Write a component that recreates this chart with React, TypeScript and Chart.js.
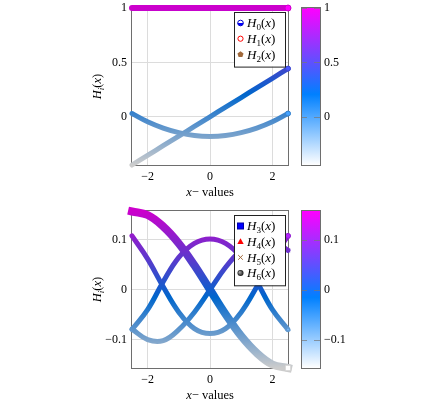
import React, { useEffect, useRef } from 'react';
import { Chart, registerables } from 'chart.js';

Chart.register(...registerables);

// ---- data ----
const xValues = [-2.5, -2, -1.5, -1, -0.5, 0, 0.5, 1, 1.5, 2, 2.5];

const h0 = [1, 1, 1, 1, 1, 1, 1, 1, 1, 1, 1];
const h1 = [-0.443, -0.354, -0.266, -0.177, -0.089, 0, 0.089, 0.177, 0.266, 0.354, 0.443];
const h2 = [0.03, -0.046, -0.104, -0.146, -0.172, -0.18, -0.172, -0.146, -0.104, -0.046, 0.03];

const h3 = [0.157, 0.15, 0.127, 0.093, 0.049, 0, -0.049, -0.093, -0.127, -0.15, -0.157];
const h4 = [-0.08, -0.04, 0.016, 0.065, 0.093, 0.102, 0.093, 0.065, 0.016, -0.04, -0.08];
const h5 = [-0.079, -0.1, -0.102, -0.08, -0.045, 0, 0.045, 0.08, 0.102, 0.1, 0.079];
const h6 = [0.108, 0.062, 0.006, -0.045, -0.078, -0.088, -0.078, -0.045, 0.006, 0.062, 0.108];

const xTicks = [-2, 0, 2];
const topYTicks = [0, 0.5, 1];
const bottomYTicks = [-0.1, 0, 0.1];
const topRange = [-0.443, 1];
const bottomRange = [-0.157, 0.158];

const topLabels = ['0', '1', '2'];
const bottomLabels = ['3', '4', '5', '6'];

const SERIF = '"Liberation Serif", "Times New Roman", serif';

type RGB = [number, number, number];
const cmapStops: [number, RGB][] = [
  [0, [255, 255, 255]],
  [0.45, [0, 128, 255]],
  [1, [255, 0, 255]],
];

function cmap(t: number, f = 1): string {
  const tt = Math.max(0, Math.min(1, t));
  for (let i = 0; i < cmapStops.length - 1; i++) {
    const [t0, c0] = cmapStops[i];
    const [t1, c1] = cmapStops[i + 1];
    if (tt <= t1) {
      const u = (tt - t0) / (t1 - t0);
      const c = c0.map((v, k) => Math.round((v + (c1[k] - v) * u) * f));
      return `rgb(${c.join(',')})`;
    }
  }
  const c = cmapStops[cmapStops.length - 1][1].map((v) => Math.round(v * f));
  return `rgb(${c.join(',')})`;
}

function vGradient(ctx: CanvasRenderingContext2D, top: number, bottom: number, f: number) {
  const g = ctx.createLinearGradient(0, top, 0, bottom);
  for (const [t, c] of cmapStops) {
    g.addColorStop(1 - t, `rgb(${c.map((v) => Math.round(v * f)).join(',')})`);
  }
  return g;
}

type Part = { t: string; it?: boolean; sub?: boolean };

function partsWidth(ctx: CanvasRenderingContext2D, parts: Part[], size: number) {
  let w = 0;
  for (const p of parts) {
    const s = p.sub ? size * 0.7 : size;
    ctx.font = `${p.it ? 'italic ' : ''}${s}px ${SERIF}`;
    w += ctx.measureText(p.t).width;
  }
  return w;
}

function drawParts(ctx: CanvasRenderingContext2D, parts: Part[], x: number, baseline: number, size: number) {
  let cx = x;
  ctx.textBaseline = 'alphabetic';
  ctx.textAlign = 'left';
  for (const p of parts) {
    const s = p.sub ? size * 0.7 : size;
    ctx.font = `${p.it ? 'italic ' : ''}${s}px ${SERIF}`;
    ctx.fillText(p.t, cx, p.sub ? baseline + size * 0.22 : baseline);
    cx += ctx.measureText(p.t).width;
  }
}

function drawMarker(ctx: CanvasRenderingContext2D, kind: string, x: number, y: number) {
  ctx.save();
  ctx.lineWidth = 1;
  if (kind === 'halfcircle') {
    ctx.fillStyle = '#fff';
    ctx.beginPath();
    ctx.arc(x, y, 2.8, 0, Math.PI * 2);
    ctx.fill();
    ctx.fillStyle = '#0000ff';
    ctx.beginPath();
    ctx.arc(x, y, 2.8, 0, Math.PI);
    ctx.fill();
    ctx.strokeStyle = '#0000cc';
    ctx.beginPath();
    ctx.arc(x, y, 2.8, 0, Math.PI * 2);
    ctx.stroke();
  } else if (kind === 'ocircle') {
    ctx.strokeStyle = '#ff0000';
    ctx.beginPath();
    ctx.arc(x, y, 2.6, 0, Math.PI * 2);
    ctx.stroke();
  } else if (kind === 'pentagon') {
    ctx.fillStyle = '#a0683a';
    ctx.beginPath();
    for (let i = 0; i < 5; i++) {
      const a = -Math.PI / 2 + (i * 2 * Math.PI) / 5;
      const px = x + 3.2 * Math.cos(a);
      const py = y + 3.2 * Math.sin(a);
      if (i === 0) ctx.moveTo(px, py);
      else ctx.lineTo(px, py);
    }
    ctx.closePath();
    ctx.fill();
  } else if (kind === 'square') {
    ctx.fillStyle = '#0000ff';
    ctx.fillRect(x - 3, y - 3, 6, 6);
    ctx.strokeStyle = '#0000aa';
    ctx.strokeRect(x - 3, y - 3, 6, 6);
  } else if (kind === 'triangle') {
    ctx.fillStyle = '#ff0000';
    ctx.beginPath();
    ctx.moveTo(x, y - 3.4);
    ctx.lineTo(x + 3.2, y + 2.4);
    ctx.lineTo(x - 3.2, y + 2.4);
    ctx.closePath();
    ctx.fill();
  } else if (kind === 'x') {
    ctx.strokeStyle = '#a0683a';
    ctx.beginPath();
    ctx.moveTo(x - 2.3, y - 2.3);
    ctx.lineTo(x + 2.3, y + 2.3);
    ctx.moveTo(x + 2.3, y - 2.3);
    ctx.lineTo(x - 2.3, y + 2.3);
    ctx.stroke();
  } else if (kind === 'ball') {
    const g = ctx.createRadialGradient(x - 1, y - 1, 0.3, x, y, 3);
    g.addColorStop(0, '#aaaaaa');
    g.addColorStop(1, '#111111');
    ctx.fillStyle = g;
    ctx.beginPath();
    ctx.arc(x, y, 3, 0, Math.PI * 2);
    ctx.fill();
  }
  ctx.restore();
}

function fmt(v: number | string) {
  return String(v).replace('-', '\u2212');
}

type Series = { sub: string; values: number[]; width: number; cap: CanvasLineCap; marker: string; endStyle: string };

function makePlugin(series: Series[]) {
  return {
    id: 'deco',
    beforeDatasetsDraw(chart: any) {
      const { ctx, chartArea: a } = chart;
      ctx.save();
      ctx.strokeStyle = '#6e6e6e';
      ctx.lineWidth = 1;
      ctx.strokeRect(Math.round(a.left) - 0.5, Math.round(a.top) - 0.5, Math.round(a.right - a.left) + 1, Math.round(a.bottom - a.top) + 1);
      ctx.restore();
    },
    afterDraw(chart: any) {
      const { ctx, chartArea: a } = chart;
      ctx.save();
      // legend box
      const n = series.length;
      const boxW = 51;
      const rowH = 15.7;
      const boxH = 7 + n * rowH + 0.5;
      const bx = a.right - 54;
      const by = a.top + 4;
      ctx.fillStyle = '#fff';
      ctx.fillRect(bx, by, boxW, boxH);
      ctx.strokeStyle = '#222';
      ctx.lineWidth = 1;
      ctx.strokeRect(Math.round(bx) + 0.5, Math.round(by) + 0.5, boxW, boxH);
      ctx.fillStyle = '#000';
      series.forEach((s, i) => {
        const cy = by + 11 + i * rowH;
        drawMarker(ctx, s.marker, bx + 6.5, cy);
        ctx.fillStyle = '#000';
        drawParts(ctx, [{ t: 'H', it: true }, { t: s.sub, sub: true }, { t: '(' }, { t: 'x', it: true }, { t: ')' }], bx + 13, cy + 4.3, 13);
      });

      // x axis title
      ctx.fillStyle = '#000';
      const xParts: Part[] = [{ t: 'x', it: true }, { t: '\u2212' }, { t: ' values' }];
      const xw = partsWidth(ctx, xParts, 12.5);
      drawParts(ctx, xParts, (a.left + a.right) / 2 - xw / 2, a.bottom + 31, 12.5);

      // y axis title
      const yParts: Part[] = [{ t: 'H', it: true }, { t: 'i', it: true, sub: true }, { t: '(' }, { t: 'x', it: true }, { t: ')' }];
      const yw = partsWidth(ctx, yParts, 12.5);
      ctx.save();
      ctx.translate(101, (a.top + a.bottom) / 2);
      ctx.rotate(-Math.PI / 2);
      drawParts(ctx, yParts, -yw / 2, 0, 12.5);
      ctx.restore();

      // colorbar
      const cx0 = a.right + 14;
      const cw = 18;
      ctx.fillStyle = vGradient(ctx, a.top, a.bottom, 1);
      ctx.fillRect(cx0, a.top, cw, a.bottom - a.top);
      const cb = chart.scales.cb;
      ctx.strokeStyle = 'rgba(120,120,120,0.7)';
      ctx.lineWidth = 1;
      for (const t of cb.ticks) {
        const py = Math.round(cb.getPixelForValue(t.value)) + 0.5;
        ctx.beginPath();
        ctx.moveTo(cx0, py);
        ctx.lineTo(cx0 + 5, py);
        ctx.moveTo(cx0 + cw - 6, py);
        ctx.lineTo(cx0 + cw, py);
        ctx.stroke();
      }
      ctx.strokeStyle = '#6e6e6e';
      ctx.strokeRect(Math.round(cx0) - 0.5, Math.round(a.top) - 0.5, cw + 1, Math.round(a.bottom - a.top) + 1);
      ctx.restore();
    },
  };
}

function Panel(props: { top: number; height: number; padTop: number; xAxisH: number; series: Series[]; range: number[]; yTicks: number[] }) {
  const ref = useRef<HTMLCanvasElement>(null);
  useEffect(() => {
    const { series, range, yTicks, padTop, xAxisH } = props;
    const [ymin, ymax] = range;
    const norm = (v: number) => (v - ymin) / (ymax - ymin);
    const n = series.length;
    const tickFont = { family: SERIF, size: 12 };
    const chart = new Chart(ref.current as HTMLCanvasElement, {
      type: 'line',
      data: {
        datasets: series.map((s, i) => ({
          label: 'H' + s.sub,
          data: xValues.map((x, k) => ({ x, y: s.values[k] })),
          borderColor: (c: any) => {
            const a = c.chart.chartArea;
            if (!a) return '#000';
            return vGradient(c.chart.ctx, a.top, a.bottom, 0.8);
          },
          borderWidth: s.width,
          borderCapStyle: s.cap,
          borderJoinStyle: 'round',
          tension: 0.4,
          fill: false,
          clip: 14,
          order: n - 1 - i,
          pointStyle: s.endStyle,
          pointRadius: (c: any) => (c.dataIndex === xValues.length - 1 ? s.width * 0.5 : 0),
          pointBorderWidth: 1,
          pointBackgroundColor: (c: any) => cmap(norm(c.raw ? c.raw.y : 0), 1),
          pointBorderColor: (c: any) => cmap(norm(c.raw ? c.raw.y : 0), 0.8),
        })) as any,
      },
      options: {
        animation: false,
        responsive: false,
        maintainAspectRatio: false,
        devicePixelRatio: 1,
        events: [],
        layout: { padding: { top: padTop, left: 0, right: 0, bottom: 0 } },
        plugins: { legend: { display: false }, tooltip: { enabled: false } },
        scales: {
          x: {
            type: 'linear',
            min: -2.5,
            max: 2.5,
            afterBuildTicks: (s: any) => {
              s.ticks = xTicks.map((v) => ({ value: v }));
            },
            afterFit: (s: any) => {
              s.height = xAxisH;
              s.paddingLeft = 0;
              s.paddingRight = 0;
            },
            grid: { color: '#dcdcdc', drawTicks: false, lineWidth: 1 },
            border: { display: false },
            ticks: { padding: 5, font: tickFont, color: '#000', maxRotation: 0, autoSkip: false, callback: (v: any) => fmt(v) },
          },
          y: {
            type: 'linear',
            position: 'left',
            min: ymin,
            max: ymax,
            afterBuildTicks: (s: any) => {
              s.ticks = yTicks.map((v) => ({ value: v }));
            },
            afterFit: (s: any) => {
              s.width = 132;
              s.paddingTop = 0;
              s.paddingBottom = 0;
            },
            grid: { color: '#dcdcdc', drawTicks: false, lineWidth: 1 },
            border: { display: false },
            ticks: { padding: 5, font: tickFont, color: '#000', autoSkip: false, callback: (v: any) => fmt(v) },
          },
          cb: {
            type: 'linear',
            position: 'right',
            min: ymin,
            max: ymax,
            afterBuildTicks: (s: any) => {
              s.ticks = yTicks.map((v) => ({ value: v }));
            },
            afterFit: (s: any) => {
              s.width = 143;
              s.paddingTop = 0;
              s.paddingBottom = 0;
            },
            grid: { display: false, drawTicks: false },
            border: { display: false },
            ticks: { padding: 36, font: tickFont, color: '#000', autoSkip: false, callback: (v: any) => fmt(v) },
          },
        },
      } as any,
      plugins: [makePlugin(series) as any],
    });
    return () => chart.destroy();
  }, []);
  return (
    <canvas
      ref={ref}
      width={431}
      height={props.height}
      style={{ position: 'absolute', left: 0, top: props.top, width: 431, height: props.height, display: 'block' }}
    />
  );
}

const topSeries: Series[] = [
  { sub: topLabels[0], values: h0, width: 6, cap: 'round', marker: 'halfcircle', endStyle: 'circle' },
  { sub: topLabels[1], values: h1, width: 5, cap: 'round', marker: 'ocircle', endStyle: 'circle' },
  { sub: topLabels[2], values: h2, width: 5, cap: 'round', marker: 'pentagon', endStyle: 'circle' },
];

const bottomSeries: Series[] = [
  { sub: bottomLabels[0], values: h3, width: 8, cap: 'square', marker: 'square', endStyle: 'rect' },
  { sub: bottomLabels[1], values: h4, width: 5, cap: 'round', marker: 'triangle', endStyle: 'triangle' },
  { sub: bottomLabels[2], values: h5, width: 5, cap: 'round', marker: 'x', endStyle: 'crossRot' },
  { sub: bottomLabels[3], values: h6, width: 5, cap: 'round', marker: 'ball', endStyle: 'circle' },
];

export default function App() {
  return (
    <div style={{ position: 'absolute', left: 0, top: 0, width: 431, height: 411, background: '#fff' }}>
      <Panel top={0} height={205} padTop={8} xAxisH={40} series={topSeries} range={topRange} yTicks={topYTicks} />
      <Panel top={205} height={206} padTop={6} xAxisH={43} series={bottomSeries} range={bottomRange} yTicks={bottomYTicks} />
    </div>
  );
}
